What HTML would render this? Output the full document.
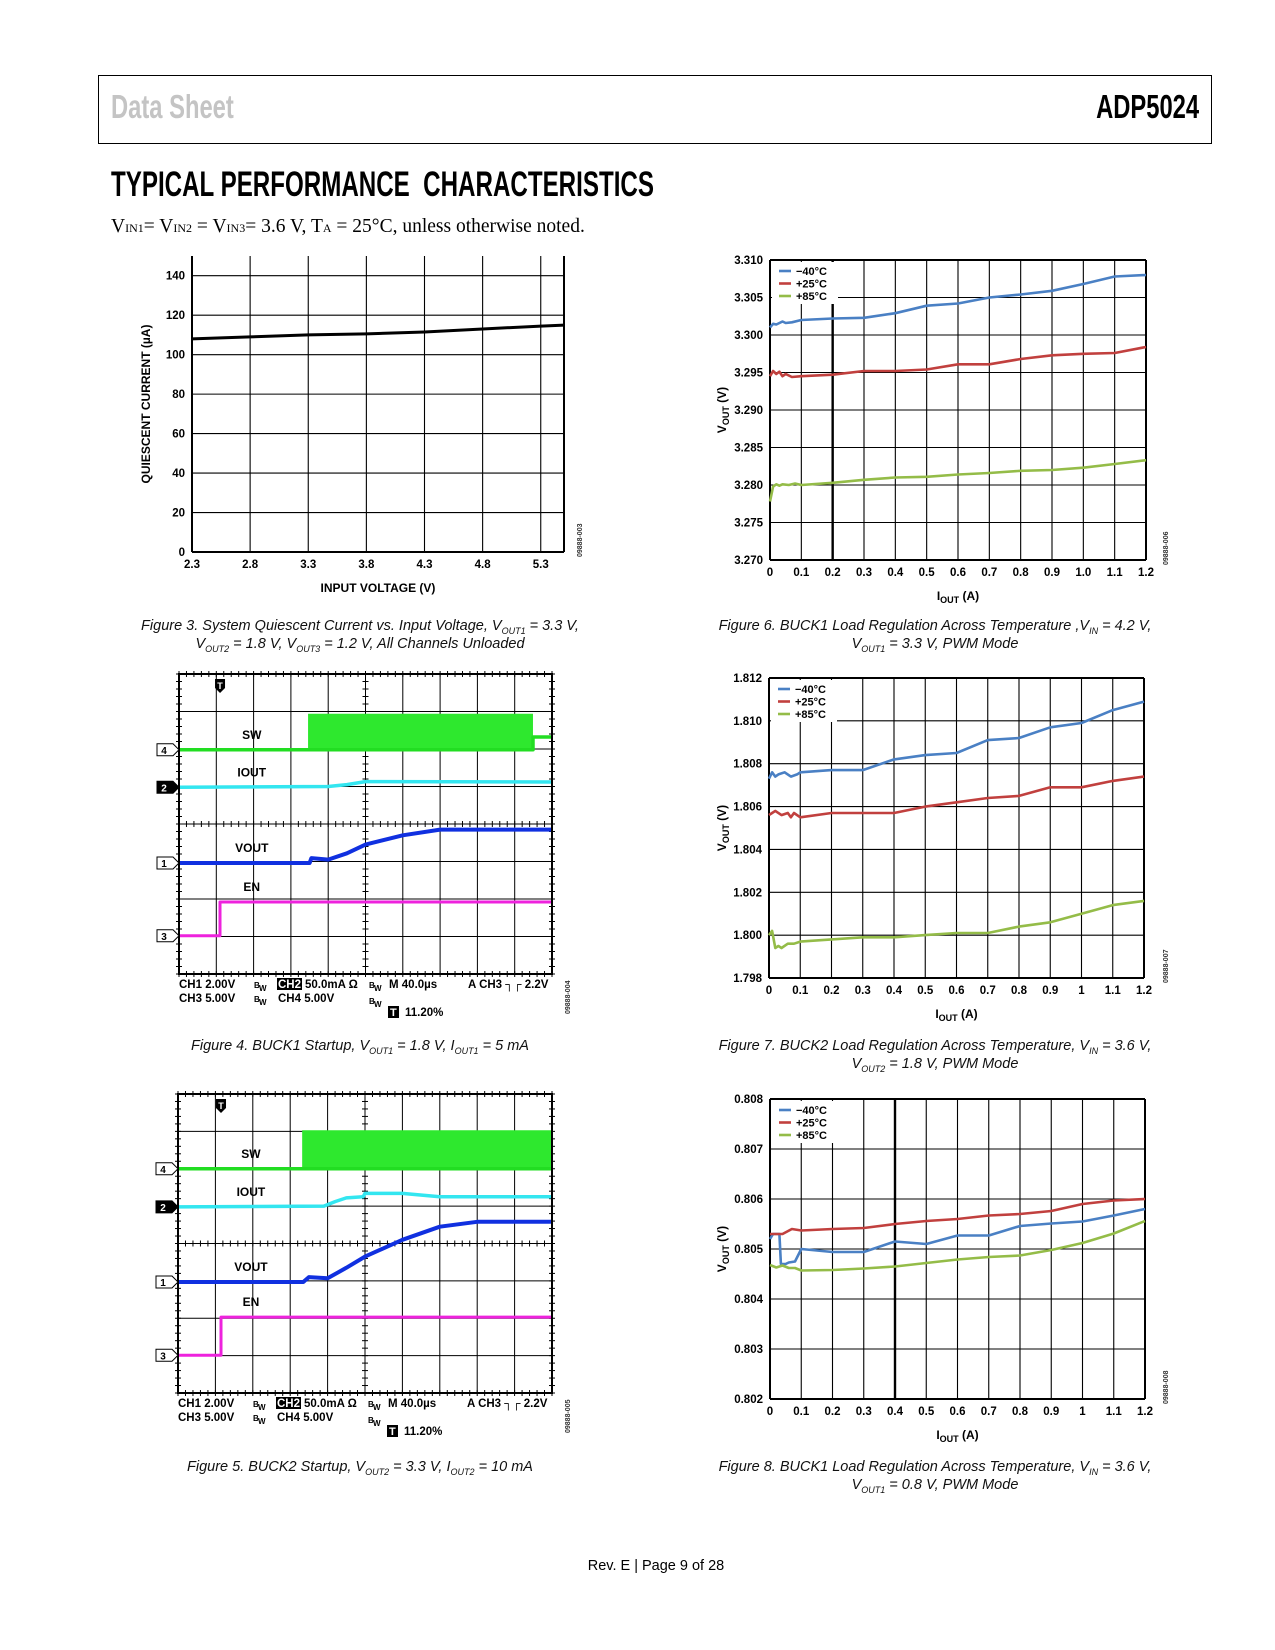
<!DOCTYPE html>
<html><head><meta charset="utf-8">
<style>
html,body{margin:0;padding:0;background:#fff;}
body{width:1275px;height:1650px;position:relative;overflow:hidden;font-family:"Liberation Sans",sans-serif;}
.abs{position:absolute;}
.cap{position:absolute;font-style:italic;font-size:14.5px;text-align:center;color:#111;}
svg text{font-family:"Liberation Sans",sans-serif;font-weight:bold;}
</style></head>
<body>
<div class="abs" style="left:98px;top:75px;width:1112px;height:67px;border:1.5px solid #000;"></div>
<div class="abs" style="left:111px;top:88px;font-size:33px;font-weight:bold;color:#c4c4c4;transform:scaleX(0.72);transform-origin:left top;">Data Sheet</div>
<div class="abs" style="right:76px;top:88px;font-size:33px;font-weight:bold;color:#000;transform:scaleX(0.72);transform-origin:right top;">ADP5024</div>
<div class="abs" style="left:111px;top:165px;font-size:35px;font-weight:bold;color:#000;transform:scaleX(0.69);transform-origin:left top;white-space:nowrap;">TYPICAL PERFORMANCE&nbsp; CHARACTERISTICS</div>
<div class="abs" style="left:111px;top:216px;font-family:'Liberation Serif',serif;font-size:19.5px;white-space:nowrap;">V<span style="font-size:12px">IN1</span>= V<span style="font-size:12px">IN2</span> = V<span style="font-size:12px">IN3</span>= 3.6 V, T<span style="font-size:12px">A</span> = 25°C, unless otherwise noted.</div>

<svg id="svg" class="abs" style="left:0;top:0" width="1275" height="1650"></svg>

<div class="cap" style="left:100px;width:520px;top:618px;">Figure 3. System Quiescent Current vs. Input Voltage, V<sub style="font-size:9px">OUT1</sub> = 3.3 V,<br>V<sub style="font-size:9px">OUT2</sub> = 1.8 V, V<sub style="font-size:9px">OUT3</sub> = 1.2 V, All Channels Unloaded</div>
<div class="cap" style="left:680px;width:510px;top:618px;">Figure 6. BUCK1 Load Regulation Across Temperature ,V<sub style="font-size:9px">IN</sub> = 4.2 V,<br>V<sub style="font-size:9px">OUT1</sub> = 3.3 V, PWM Mode</div>
<div class="cap" style="left:100px;width:520px;top:1038px;">Figure 4. BUCK1 Startup, V<sub style="font-size:9px">OUT1</sub> = 1.8 V, I<sub style="font-size:9px">OUT1</sub> = 5 mA</div>
<div class="cap" style="left:680px;width:510px;top:1038px;">Figure 7. BUCK2 Load Regulation Across Temperature, V<sub style="font-size:9px">IN</sub> = 3.6 V,<br>V<sub style="font-size:9px">OUT2</sub> = 1.8 V, PWM Mode</div>
<div class="cap" style="left:100px;width:520px;top:1459px;">Figure 5. BUCK2 Startup, V<sub style="font-size:9px">OUT2</sub> = 3.3 V, I<sub style="font-size:9px">OUT2</sub> = 10 mA</div>
<div class="cap" style="left:680px;width:510px;top:1459px;">Figure 8. BUCK1 Load Regulation Across Temperature, V<sub style="font-size:9px">IN</sub> = 3.6 V,<br>V<sub style="font-size:9px">OUT1</sub> = 0.8 V, PWM Mode</div>
<div class="abs" style="left:0;width:1312px;text-align:center;top:1558px;font-size:14.5px;">Rev. E | Page 9 of 28</div>

<script>
// ---- Figure 3 data ----
const f3X = [2.3, 2.8, 3.3, 3.8, 4.3, 4.8, 5.3, 5.5];
const f3Y = [108, 109, 110, 110.5, 111.5, 113, 114.5, 115];
const f3XTicks = ["2.3","2.8","3.3","3.8","4.3","4.8","5.3"];
const f3YTicks = ["0","20","40","60","80","100","120","140"];

// ---- Figure 6 data ----
const f6XNeg40 = [0,0.01,0.02,0.04,0.05,0.07,0.1,0.2,0.3,0.4,0.5,0.6,0.7,0.8,0.9,1.0,1.1,1.2];
const f6YNeg40 = [3.3010,3.3015,3.3014,3.3018,3.3016,3.3017,3.3020,3.3022,3.3023,3.3029,3.3039,3.3042,3.3050,3.3054,3.3059,3.3068,3.3078,3.3080];
const f6X25 = [0,0.01,0.02,0.03,0.04,0.05,0.07,0.1,0.2,0.3,0.4,0.5,0.6,0.7,0.8,0.9,1.0,1.1,1.2];
const f6Y25 = [3.2945,3.2952,3.2948,3.2951,3.2945,3.2948,3.2944,3.2945,3.2947,3.2952,3.2952,3.2954,3.2961,3.2961,3.2968,3.2973,3.2975,3.2976,3.2984];
const f6X85 = [0,0.01,0.02,0.03,0.04,0.06,0.08,0.1,0.2,0.3,0.4,0.5,0.6,0.7,0.8,0.9,1.0,1.1,1.2];
const f6Y85 = [3.2778,3.2798,3.2801,3.2799,3.2801,3.2800,3.2802,3.2800,3.2803,3.2807,3.2810,3.2811,3.2814,3.2816,3.2819,3.2820,3.2823,3.2828,3.2833];
const f6XTicks = ["0","0.1","0.2","0.3","0.4","0.5","0.6","0.7","0.8","0.9","1.0","1.1","1.2"];
const f6YTicks = ["3.270","3.275","3.280","3.285","3.290","3.295","3.300","3.305","3.310"];

// ---- Figure 7 data ----
const f7XNeg40 = [0,0.01,0.02,0.03,0.05,0.07,0.09,0.1,0.2,0.3,0.4,0.5,0.6,0.7,0.8,0.9,1.0,1.1,1.2];
const f7YNeg40 = [1.8073,1.8076,1.8074,1.8075,1.8076,1.8074,1.8075,1.8076,1.8077,1.8077,1.8082,1.8084,1.8085,1.8091,1.8092,1.8097,1.8099,1.8105,1.8109];
const f7X25 = [0,0.01,0.02,0.04,0.06,0.07,0.08,0.1,0.2,0.3,0.4,0.5,0.6,0.7,0.8,0.9,1.0,1.1,1.2];
const f7Y25 = [1.8056,1.8057,1.8058,1.8056,1.8057,1.8055,1.8057,1.8055,1.8057,1.8057,1.8057,1.8060,1.8062,1.8064,1.8065,1.8069,1.8069,1.8072,1.8074];
const f7X85 = [0,0.01,0.02,0.03,0.04,0.06,0.08,0.1,0.2,0.3,0.4,0.5,0.6,0.7,0.8,0.9,1.0,1.1,1.2];
const f7Y85 = [1.8000,1.8002,1.7994,1.7995,1.7994,1.7996,1.7996,1.7997,1.7998,1.7999,1.7999,1.8000,1.8001,1.8001,1.8004,1.8006,1.8010,1.8014,1.8016];
const f7XTicks = ["0","0.1","0.2","0.3","0.4","0.5","0.6","0.7","0.8","0.9","1","1.1","1.2"];
const f7YTicks = ["1.798","1.800","1.802","1.804","1.806","1.808","1.810","1.812"];

// ---- Figure 8 data ----
const f8XNeg40 = [0,0.01,0.03,0.035,0.05,0.06,0.08,0.1,0.2,0.3,0.4,0.5,0.6,0.7,0.8,0.9,1.0,1.1,1.2];
const f8YNeg40 = [0.8052,0.8053,0.8053,0.8047,0.8047,0.80473,0.80475,0.8050,0.80494,0.80494,0.80515,0.8051,0.80527,0.80527,0.80546,0.80551,0.80555,0.80567,0.8058];
const f8X25 = [0,0.01,0.03,0.04,0.07,0.1,0.2,0.3,0.4,0.5,0.6,0.7,0.8,0.9,1.0,1.1,1.2];
const f8Y25 = [0.8053,0.8053,0.8053,0.8053,0.8054,0.80537,0.8054,0.80542,0.8055,0.80556,0.8056,0.80567,0.8057,0.80576,0.8059,0.80597,0.8060];
const f8X85 = [0,0.02,0.04,0.06,0.08,0.1,0.2,0.3,0.4,0.5,0.6,0.7,0.8,0.9,1.0,1.1,1.2];
const f8Y85 = [0.80468,0.80463,0.80467,0.80462,0.80462,0.80457,0.80458,0.80461,0.80465,0.80472,0.80479,0.80484,0.80487,0.80498,0.80512,0.80531,0.80556];
const f8XTicks = ["0","0.1","0.2","0.3","0.4","0.5","0.6","0.7","0.8","0.9","1","1.1","1.2"];
const f8YTicks = ["0.802","0.803","0.804","0.805","0.806","0.807","0.808"];

const legendLabels = ["\u221240\u00b0C","+25\u00b0C","+85\u00b0C"];

// ---- Scope traces (time in divisions 0..10, level in divisions from top 0..8) ----
const s4SwT = [0, 9.49, 9.49, 10];
const s4SwBase = [2.02, 2.02, 1.68, 1.68];
const s4SwBurst = [3.46, 9.49, 1.06];
const s4IoutT = [0, 4.0, 4.5, 5.0, 10];
const s4IoutV = [3.02, 3.0, 2.95, 2.87, 2.88];
const s4VoutT = [0, 3.5, 3.55, 4.0, 4.5, 5.0, 6.0, 7.0, 10];
const s4VoutV = [5.04, 5.04, 4.91, 4.95, 4.78, 4.55, 4.3, 4.15, 4.15];
const s4EnT = [0, 1.1, 1.1, 10];
const s4EnV = [6.98, 6.98, 6.08, 6.08];

const s5SwT = [0, 3.32, 10];
const s5SwBase = [2.0, 2.0, 2.0];
const s5SwBurst = [3.32, 10, 0.97];
const s5IoutT = [0, 3.9, 4.2, 4.5, 4.95, 5.0, 6.0, 7.0, 10];
const s5IoutV = [3.02, 3.0, 2.88, 2.78, 2.75, 2.66, 2.66, 2.75, 2.75];
const s5VoutT = [0, 3.35, 3.5, 4.0, 4.5, 5.0, 6.0, 7.0, 8.0, 10];
const s5VoutV = [5.03, 5.03, 4.9, 4.93, 4.65, 4.35, 3.9, 3.55, 3.42, 3.42];
const s5EnT = [0, 1.15, 1.15, 10];
const s5EnV = [6.99, 6.99, 5.97, 5.97];

const NS = "http://www.w3.org/2000/svg";
const svg = document.getElementById('svg');
function mk(tag, attrs, parent, text) {
  const e = document.createElementNS(NS, tag);
  for (const k in attrs) e.setAttribute(k, attrs[k]);
  if (text !== undefined) e.textContent = text;
  (parent || svg).appendChild(e);
  return e;
}
function linScale(d0, d1, r0, r1) { return v => r0 + (v - d0) * (r1 - r0) / (d1 - d0); }

function drawSeries(g, xs, ys, sx, sy, color, w, name) {
  const pts = xs.map((x, i) => sx(x).toFixed(1) + "," + sy(ys[i]).toFixed(1)).join(" ");
  const p = mk('polyline', {points: pts, fill: 'none', stroke: color, 'stroke-width': w, 'stroke-linejoin': 'round'}, g);
  
  
}

function axesChart(c) {
  const g = mk('g', {});
  
  
  const sx = linScale(c.xd[0], c.xd[1], c.L, c.R);
  const sy = linScale(c.yd[0], c.yd[1], c.B, c.T);
  c.xTicks.forEach((t, i) => {
    const x = sx(c.xStart + i * c.xStep);
    mk('line', {x1: x, x2: x, y1: c.T, y2: c.B, stroke: '#000', 'stroke-width': (c.thickX === i) ? 2.4 : 1.1}, g);
    const tx = mk('text', {x: x, y: c.B + 16, 'font-size': 11.5, 'text-anchor': 'middle'}, g, t);
    
    
  });
  c.yTicks.forEach((t, i) => {
    const y = sy(c.yd[0] + i * c.yStep);
    mk('line', {x1: c.L, x2: c.R, y1: y, y2: y, stroke: '#000', 'stroke-width': 1.1}, g);
    const ty = mk('text', {x: c.L - 7, y: y + 4, 'font-size': 11.5, 'text-anchor': 'end'}, g, t);
    
    
  });
  mk('line', {x1: c.L, x2: c.L, y1: c.T, y2: c.B, stroke: '#000', 'stroke-width': 2}, g);
  mk('line', {x1: c.L, x2: c.R, y1: c.B, y2: c.B, stroke: '#000', 'stroke-width': 2}, g);
  mk('line', {x1: c.R, x2: c.R, y1: c.T, y2: c.B, stroke: '#000', 'stroke-width': 2}, g);
  if (c.topBorder) mk('line', {x1: c.L, x2: c.R, y1: c.T, y2: c.T, stroke: '#000', 'stroke-width': 2}, g);
  c.series.forEach(s => drawSeries(g, s.x, s.y, sx, sy, s.color, s.w || 2.6, s.name));
  if (c.legend) {
    mk('rect', {x: c.L + 2, y: c.T + 2, width: 66, height: 42, fill: '#fff'}, g);
    c.series.forEach((s, i) => {
      const ly = c.T + 11 + i * 12.5;
      mk('line', {x1: c.L + 9, x2: c.L + 21, y1: ly, y2: ly, stroke: s.color, 'stroke-width': 2.6}, g);
      const lt = mk('text', {x: c.L + 26, y: ly + 4, 'font-size': 11}, g, legendLabels[i]);
      
      
    });
  }
  const xt = mk('text', {x: (c.L + c.R) / 2 + (c.xtOff || 0), y: c.B + 40, 'font-size': 12, 'text-anchor': 'middle'}, g);
  
  
  if (c.iout) {
    mk('tspan', {}, xt, 'I');
    mk('tspan', {'font-size': 9, dy: 3}, xt, 'OUT');
    mk('tspan', {dy: -3}, xt, ' (A)');
  } else xt.textContent = c.xTitle;
  const yx = c.ytX, yy = (c.T + c.B) / 2;
  const yt = mk('text', {x: yx, y: yy, 'font-size': 12, 'text-anchor': 'middle', transform: `rotate(-90 ${yx} ${yy})`}, g);
  
  
  if (c.vout) {
    mk('tspan', {}, yt, 'V');
    mk('tspan', {'font-size': 9, dy: 3}, yt, 'OUT');
    mk('tspan', {dy: -3}, yt, ' (V)');
  } else yt.textContent = c.yTitle;
  const id = mk('text', {x: c.idX, y: c.B + 5, 'font-size': 7, 'font-weight': 'normal', transform: `rotate(-90 ${c.idX} ${c.B + 5})`, fill: '#333'}, g, c.id);
  
  
}

const blue = '#4a80c4', red = '#c1403e', green = '#94bc48';

axesChart({name: 'figure-3-quiescent-current-chart', L: 192, R: 564, T: 256, B: 552, xd: [2.3, 5.5], yd: [0, 150],
  xTicks: f3XTicks, xStart: 2.3, xStep: 0.5, yTicks: f3YTicks, yStep: 20,
  series: [{x: f3X, y: f3Y, color: '#000', w: 3, name: 'quiescent-current-line'}],
  xTitle: 'INPUT VOLTAGE (V)', yTitle: 'QUIESCENT CURRENT (\u00b5A)', ytX: 150, idX: 582, id: '09888-003'});

axesChart({name: 'figure-6-buck1-load-regulation-chart', L: 770, R: 1146, T: 260, B: 560, xd: [0, 1.2], yd: [3.270, 3.310],
  xTicks: f6XTicks, xStart: 0, xStep: 0.1, yTicks: f6YTicks, yStep: 0.005, thickX: 2, topBorder: true, legend: true, iout: true, vout: true,
  series: [{x: f6XNeg40, y: f6YNeg40, color: blue, name: 'series-minus40c'}, {x: f6X25, y: f6Y25, color: red, name: 'series-25c'}, {x: f6X85, y: f6Y85, color: green, name: 'series-85c'}],
  ytX: 726, idX: 1168, id: '09888-006'});

axesChart({name: 'figure-7-buck2-load-regulation-chart', L: 769, R: 1144, T: 678, B: 978, xd: [0, 1.2], yd: [1.798, 1.812],
  xTicks: f7XTicks, xStart: 0, xStep: 0.1, yTicks: f7YTicks, yStep: 0.002, topBorder: true, legend: true, iout: true, vout: true,
  series: [{x: f7XNeg40, y: f7YNeg40, color: blue, name: 'series-minus40c'}, {x: f7X25, y: f7Y25, color: red, name: 'series-25c'}, {x: f7X85, y: f7Y85, color: green, name: 'series-85c'}],
  ytX: 726, idX: 1168, id: '09888-007'});

axesChart({name: 'figure-8-buck1-0v8-load-regulation-chart', L: 770, R: 1145, T: 1099, B: 1399, xd: [0, 1.2], yd: [0.802, 0.808],
  xTicks: f8XTicks, xStart: 0, xStep: 0.1, yTicks: f8YTicks, yStep: 0.001, thickX: 4, topBorder: true, legend: true, iout: true, vout: true,
  series: [{x: f8XNeg40, y: f8YNeg40, color: blue, name: 'series-minus40c'}, {x: f8X25, y: f8Y25, color: red, name: 'series-25c'}, {x: f8X85, y: f8Y85, color: green, name: 'series-85c'}],
  ytX: 726, idX: 1168, id: '09888-008'});

function scope(c) {
  const g = mk('g', {});
  
  
  const sx = linScale(0, 10, c.L, c.R);
  const sy = linScale(0, 8, c.T, c.B);
  for (let i = 1; i < 10; i++) mk('line', {x1: sx(i), x2: sx(i), y1: c.T, y2: c.B, stroke: '#000', 'stroke-width': 1}, g);
  for (let i = 1; i < 8; i++) mk('line', {x1: c.L, x2: c.R, y1: sy(i), y2: sy(i), stroke: '#000', 'stroke-width': 1}, g);
  for (let i = 0; i <= 50; i++) {
    const x = sx(i / 5), l = 3;
    [c.T, c.B, sy(4)].forEach(y => mk('line', {x1: x, x2: x, y1: y - l, y2: y + l, stroke: '#000', 'stroke-width': 1}, g));
  }
  for (let i = 0; i <= 40; i++) {
    const y = sy(i / 5), l = 3;
    [c.L, c.R, sx(5)].forEach(x => mk('line', {x1: x - l, x2: x + l, y1: y, y2: y, stroke: '#000', 'stroke-width': 1}, g));
  }
  const sw = c.sw;
  const burst = mk('rect', {x: sx(sw.burst[0]), y: sy(sw.burst[2]), width: sx(sw.burst[1]) - sx(sw.burst[0]), height: sy(sw.base[0]) - sy(sw.burst[2]), fill: '#2ee82e'}, g);
  
  
  drawSeries(g, sw.t, sw.base, sx, sy, '#22dd22', 3.5, 'sw-trace');
  drawSeries(g, c.iout[0], c.iout[1], sx, sy, '#33e6f0', 3.5, 'iout-trace');
  drawSeries(g, c.vout[0], c.vout[1], sx, sy, '#1030e0', 4, 'vout-trace');
  drawSeries(g, c.en[0], c.en[1], sx, sy, '#ee22dd', 3, 'en-trace');
  mk('rect', {x: c.L, y: c.T, width: c.R - c.L, height: c.B - c.T, fill: 'none', stroke: '#000', 'stroke-width': 2}, g);
  const tx = sx(c.en[0][1]);
  mk('path', {d: `M${tx - 5} ${c.T + 5} h10 v9 l-5 5 l-5 -5 z`, fill: '#000'}, g);
  mk('text', {x: tx, y: c.T + 15, 'font-size': 9, fill: '#fff', 'text-anchor': 'middle'}, g, 'T');
  const lab = (t, x, y) => { const e = mk('text', {x: x, y: y, 'font-size': 12, 'text-anchor': 'middle'}, g, t);   };
  lab('SW', sx(1.95), sy(sw.base[0]) - 11);
  lab('IOUT', sx(1.95), sy(c.iout[1][0]) - 11);
  lab('VOUT', sx(1.95), sy(c.vout[1][0]) - 11);
  lab('EN', sx(1.95), sy(c.en[1][3]) - 11);
  [['4', sw.base[0], false], ['2', c.iout[1][0], true], ['1', c.vout[1][0], false], ['3', c.en[1][0], false]].forEach(m => {
    const y = sy(m[1]);
    const p = mk('path', {d: `M${c.L - 22} ${y - 6} h16 l6 6 l-6 6 h-16 z`, fill: m[2] ? '#000' : '#fff', stroke: '#000', 'stroke-width': 1}, g);
    
    
    mk('text', {x: c.L - 15, y: y + 4, 'font-size': 10, fill: m[2] ? '#fff' : '#000', 'text-anchor': 'middle'}, g, m[0]);
  });
  const y1 = c.B + 14, y2 = c.B + 28, y3 = c.B + 42;
  const t = (s, x, y, fs) => mk('text', {x: x, y: y, 'font-size': fs || 11.5}, g, s);
  t('CH1 2.00V', c.L, y1); t('CH3 5.00V', c.L, y2);
  t('B', c.L + 75, y1, 8); t('W', c.L + 80, y1 + 3, 8); t('B', c.L + 75, y2, 8); t('W', c.L + 80, y2 + 3, 8);
  mk('rect', {x: c.L + 98, y: y1 - 10, width: 25, height: 12, fill: '#000'}, g);
  mk('text', {x: c.L + 99, y: y1, 'font-size': 11.5, fill: '#fff'}, g, 'CH2');
  t('50.0mA \u03a9', c.L + 126, y1); t('CH4 5.00V', c.L + 99, y2);
  t('B', c.L + 190, y1, 8); t('W', c.L + 195, y1 + 3, 8); t('B', c.L + 190, y2 + 2, 8); t('W', c.L + 195, y2 + 5, 8);
  t('M 40.0\u00b5s', c.L + 210, y1);
  t('A CH3 \u2510\u250c 2.2V', c.L + 289, y1);
  mk('rect', {x: c.L + 209, y: y3 - 10, width: 11, height: 12, fill: '#000'}, g);
  mk('text', {x: c.L + 211, y: y3, 'font-size': 11, fill: '#fff'}, g, 'T');
  t('11.20%', c.L + 226, y3);
  mk('text', {x: c.idX, y: c.B + 40, 'font-size': 7, 'font-weight': 'normal', fill: '#333', transform: `rotate(-90 ${c.idX} ${c.B + 40})`}, g, c.id);
}

scope({name: 'figure-4-buck1-startup-scope', L: 179, R: 552, T: 674, B: 974, idX: 570, id: '09888-004',
  sw: {t: s4SwT, base: s4SwBase, burst: s4SwBurst}, iout: [s4IoutT, s4IoutV], vout: [s4VoutT, s4VoutV], en: [s4EnT, s4EnV]});
scope({name: 'figure-5-buck2-startup-scope', L: 178, R: 552, T: 1094, B: 1393, idX: 570, id: '09888-005',
  sw: {t: s5SwT, base: s5SwBase, burst: s5SwBurst}, iout: [s5IoutT, s5IoutV], vout: [s5VoutT, s5VoutV], en: [s5EnT, s5EnV]});
</script>
</body></html>
